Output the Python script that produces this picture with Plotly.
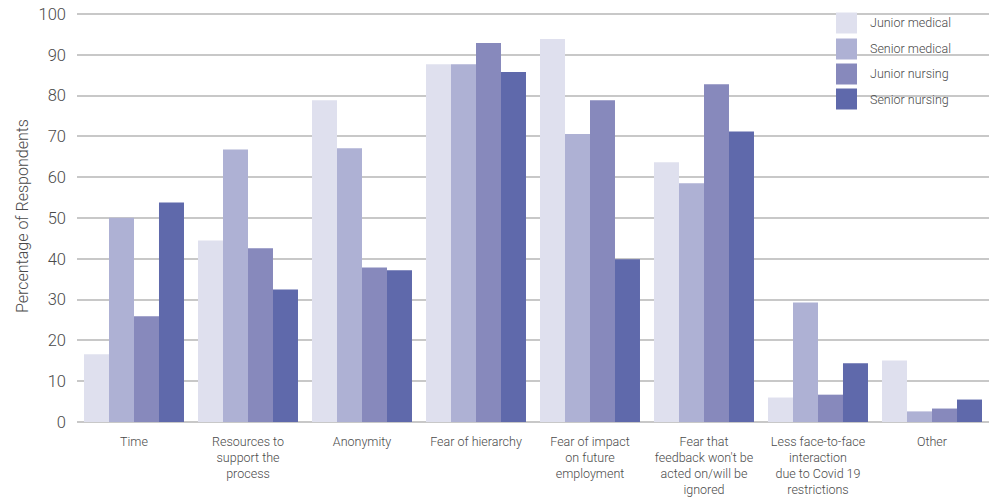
import plotly.graph_objects as go

categories = ["Time", "Resources to<br>support the<br>process", "Anonymity", "Fear of hierarchy",
              "Fear of impact<br>on future<br>employment",
              "Fear that<br>feedback won't be<br>acted on/will be<br>ignored",
              "Less face-to-face<br>interaction<br>due to Covid 19<br>restrictions", "Other"]
junior_medical = [16.6, 44.5, 78.9, 87.7, 93.9, 63.7, 6.0, 15.1]
senior_medical = [50.1, 66.8, 67.1, 87.7, 70.6, 58.5, 29.3, 2.6]
junior_nursing = [25.9, 42.6, 37.9, 92.9, 78.9, 82.8, 6.7, 3.3]
senior_nursing = [53.8, 32.5, 37.2, 85.8, 39.9, 71.2, 14.4, 5.5]
series_names = ["Junior medical", "Senior medical", "Junior nursing", "Senior nursing"]
y_ticks = [0, 10, 20, 30, 40, 50, 60, 70, 80, 90, 100]

colors = ["#dfe0ee", "#aeb1d4", "#8789bc", "#5f69ab"]
FONT = "Roboto, sans-serif"
TXT = "#4a4a4a"

W, H = 991, 498
L, R, T, B = 77, 2, 10, 76
PW, PH = W - L - R, H - T - B


def px(x):
    return (x - L) / PW


def py(y):
    return 1 - (y - T) / PH


fig = go.Figure()
for name, vals, c in zip(series_names,
                         [junior_medical, senior_medical, junior_nursing, senior_nursing], colors):
    fig.add_trace(go.Bar(x=categories, y=vals, name=name, marker=dict(color=c, line=dict(width=0)),
                         showlegend=False))

# custom legend (squares + labels), positions in pixels
legend_y = [23, 49, 74, 99]
for name, c, yc in zip(series_names, colors, legend_y):
    fig.add_shape(type="rect", xref="paper", yref="paper",
                  x0=px(836), x1=px(857), y0=py(yc + 10.5), y1=py(yc - 10.5),
                  fillcolor=c, line=dict(width=0))
    fig.add_annotation(xref="paper", yref="paper", x=px(868), y=py(yc), text=name,
                       showarrow=False, xanchor="left", yanchor="middle",
                       font=dict(family=FONT, size=12.5, color=TXT, weight=300))

fig.update_layout(
    width=W, height=H,
    margin=dict(l=L, r=R, t=T, b=B),
    plot_bgcolor="white", paper_bgcolor="white",
    barmode="group", bargap=0.123, bargroupgap=0,
    font=dict(family=FONT, color=TXT, size=12.5, weight=300),
    showlegend=False,
    xaxis=dict(showgrid=False, ticks="", tickfont=dict(size=12.5, color=TXT, weight=300),
               showline=False, automargin=False, ticklabelstandoff=10),
    yaxis=dict(range=[0, 101], tickvals=y_ticks, showgrid=True, gridcolor="#c8c8c8", gridwidth=1.5,
               zeroline=True, zerolinecolor="#c8c8c8", zerolinewidth=1.5, automargin=False,
               tickfont=dict(size=16.5, color=TXT, weight=300), ticks="", ticklabelstandoff=10,
               title=dict(text="Percentage of Respondents", font=dict(size=16, color=TXT, weight=300),
                          standoff=5)),
)
fig.write_html("out.html", config={"displayModeBar": False},
               post_script="document.body.style.margin='0';document.body.style.overflow='hidden';")
